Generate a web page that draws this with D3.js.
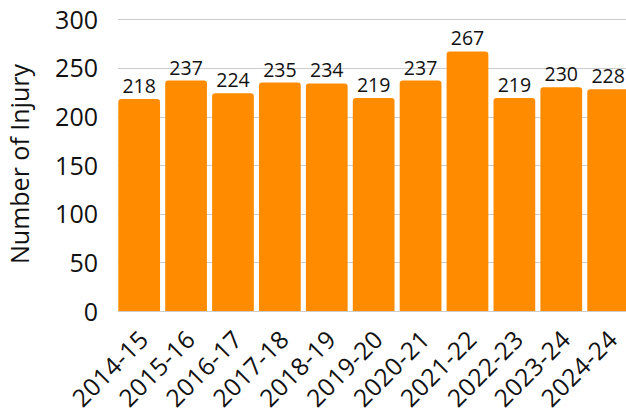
<!DOCTYPE html>
<html>
<head>
<meta charset="utf-8">
<script src="https://cdn.jsdelivr.net/npm/d3@7/dist/d3.min.js"></script>
<style>
  body { margin: 0; background: #fff; }
  svg { display: block; font-family: 'Open Sans', sans-serif; }
</style>
</head>
<body>
<svg width="626" height="417"></svg>
<script>
const seasons = ['2014-15', '2015-16', '2016-17', '2017-18', '2018-19', '2019-20',
  '2020-21', '2021-22', '2022-23', '2023-24', '2024-24'];
const injuries = [218, 237, 224, 235, 234, 219, 237, 267, 219, 230, 228];
const yTicks = [0, 50, 100, 150, 200, 250, 300];

const data = seasons.map((s, i) => ({ season: s, value: injuries[i] }));

const svg = d3.select('svg');

// plot area runs off the right edge like the original
const x = d3.scaleBand()
  .domain(seasons)
  .range([118.3, 118.3 + 46.9 * 10.89])
  .paddingInner(0.11)
  .paddingOuter(0);

const y = d3.scaleLinear()
  .domain([0, 300])
  .range([311, 19.3]);

// grid lines
svg.append('g')
  .selectAll('line')
  .data(yTicks)
  .join('line')
  .attr('x1', 118)
  .attr('x2', 626)
  .attr('y1', (d) => Math.round(y(d)) + 0.5)
  .attr('y2', (d) => Math.round(y(d)) + 0.5)
  .attr('stroke', '#cccccc')
  .attr('stroke-width', 1);

// y axis labels
const yAxis = d3.axisLeft(y).tickValues(yTicks).tickSize(0).tickPadding(0);
svg.append('g')
  .attr('transform', 'translate(98,0)')
  .call(yAxis)
  .call((g) => g.select('.domain').remove())
  .selectAll('text')
  .attr('font-family', 'Open Sans, sans-serif')
  .attr('font-size', 25)
  .attr('fill', '#111')
  .attr('dy', '0.36em');

// bars with rounded tops
const r = 3;
svg.append('g')
  .selectAll('path')
  .data(data)
  .join('path')
  .attr('fill', '#ff8c00')
  .attr('d', (d) => {
    const x0 = x(d.season);
    const w = x.bandwidth();
    const top = y(d.value);
    const bottom = y(0);
    return `M${x0},${bottom}V${top + r}Q${x0},${top} ${x0 + r},${top}` +
      `H${x0 + w - r}Q${x0 + w},${top} ${x0 + w},${top + r}V${bottom}Z`;
  });

// value labels
svg.append('g')
  .selectAll('text')
  .data(data)
  .join('text')
  .attr('x', (d) => x(d.season) + x.bandwidth() / 2)
  .attr('y', (d) => y(d.value) - 6)
  .attr('text-anchor', 'middle')
  .attr('font-size', 19.5)
  .attr('fill', '#111')
  .text((d) => d.value);

// x axis labels, rotated
const xAxis = d3.axisBottom(x).tickSize(0).tickPadding(0);
svg.append('g')
  .attr('transform', `translate(0,${y(0)})`)
  .call(xAxis)
  .call((g) => g.select('.domain').remove())
  .selectAll('text')
  .attr('font-family', 'Open Sans, sans-serif')
  .attr('font-size', 24.5)
  .attr('letter-spacing', 0.5)
  .attr('fill', '#111')
  .attr('text-anchor', 'end')
  .attr('dy', 0)
  .attr('transform', 'translate(11,30) rotate(-45)');

// y title
svg.append('text')
  .attr('transform', 'translate(29,164) rotate(-90)')
  .attr('text-anchor', 'middle')
  .attr('font-size', 25)
  .attr('fill', '#111')
  .text('Number of Injury');
</script>
</body>
</html>
